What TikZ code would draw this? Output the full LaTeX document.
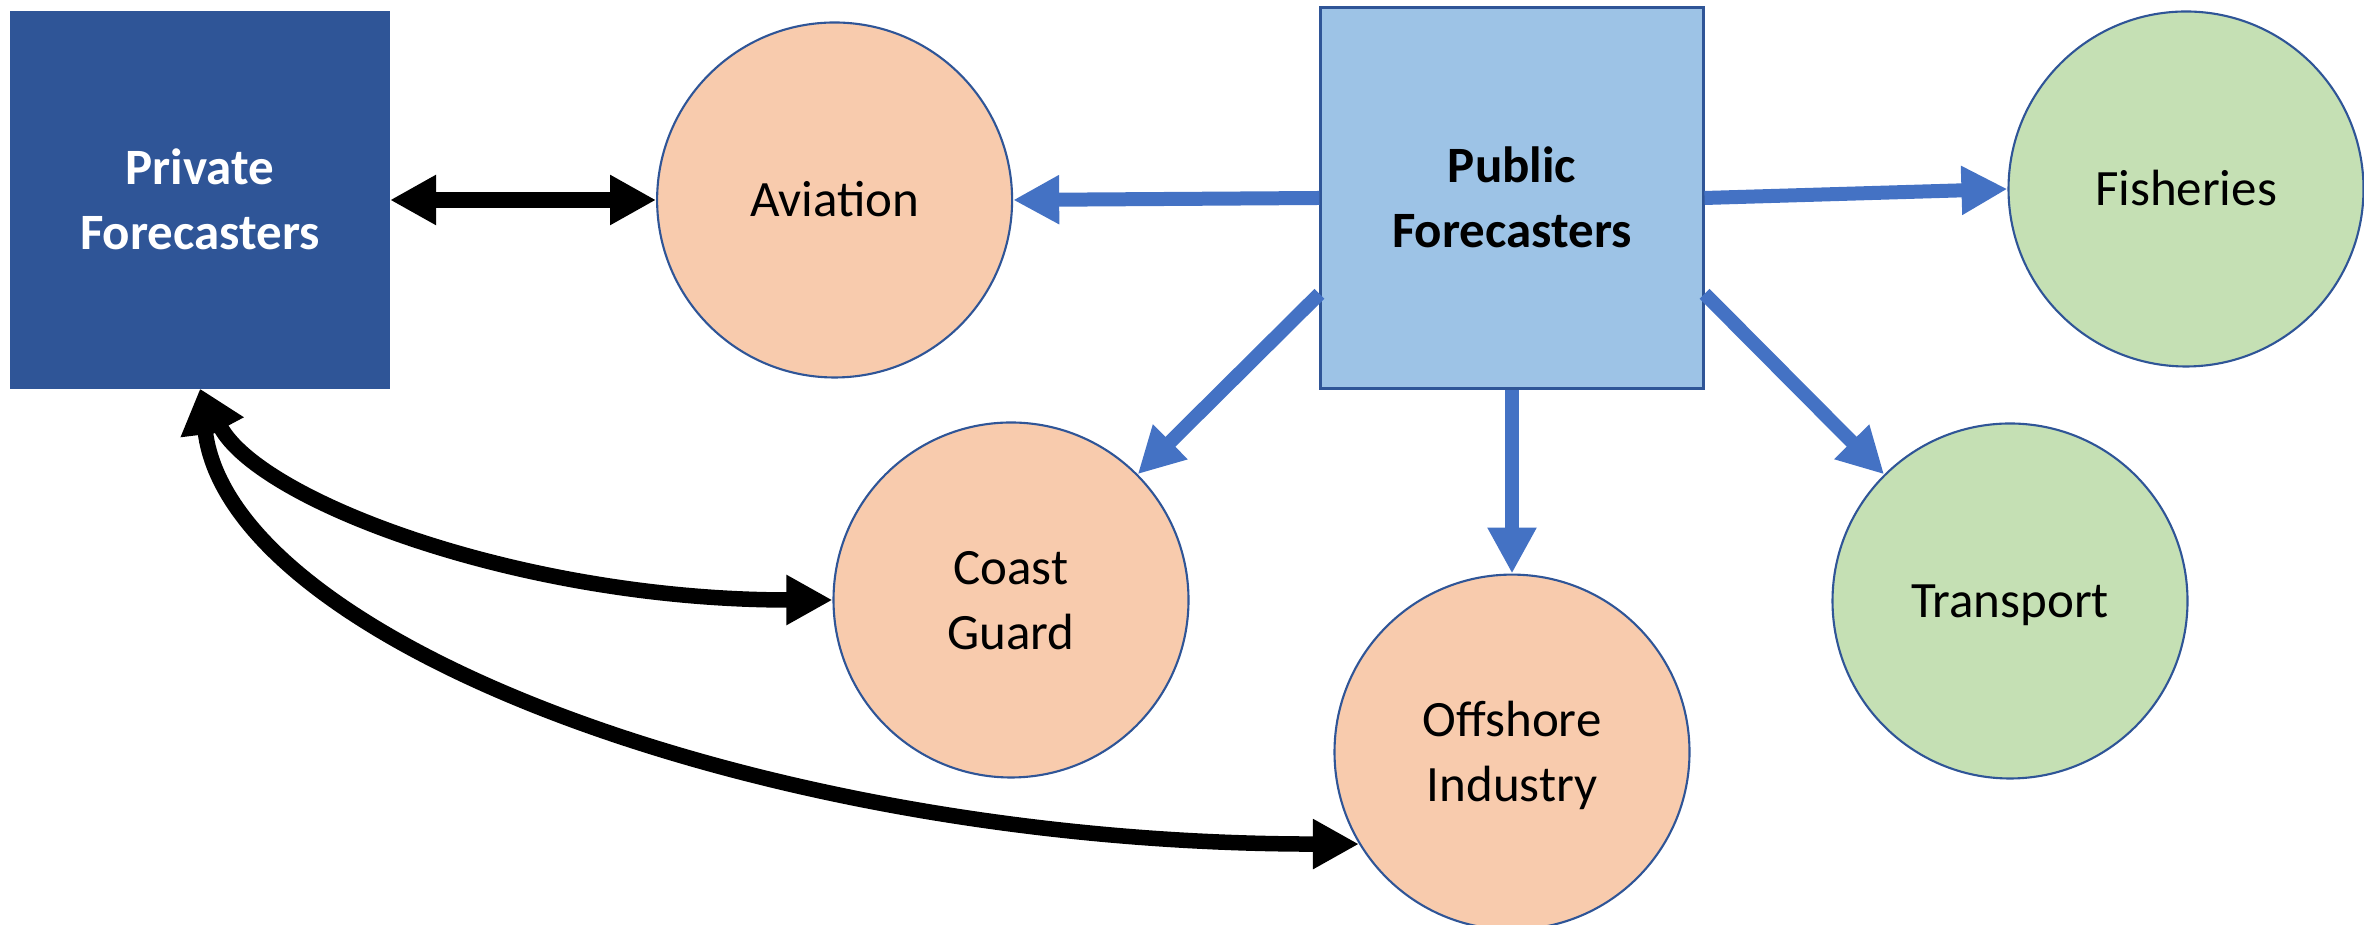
\documentclass[tikz,border=0pt]{standalone}
\usepackage{fontspec}
\setmainfont{Carlito}
\usetikzlibrary{positioning,arrows.meta,calc}
\definecolor{navy}{HTML}{2F5597}
\definecolor{skyfill}{HTML}{9DC3E6}
\definecolor{peach}{HTML}{F8CBAD}
\definecolor{sage}{HTML}{C5E0B4}
\definecolor{arrowblue}{HTML}{4472C4}
% line strut so that every text line sits the same way in its shape
\newcommand{\lstrut}{\rule[-0.13cm]{0pt}{0.60cm}}
\begin{document}
\begin{tikzpicture}[fcst/.style={draw=navy, line width=0.6pt, rectangle, align=center, font=\fontsize{14.5}{18.5}\selectfont\bfseries},user/.style={draw=navy, line width=0.6pt, circle, minimum size=3.55cm, align=center, font=\fontsize{14.5}{18.5}\selectfont},link/.style={<->, line width=1.55mm, >={Triangle[length=4.6mm, width=4.7mm]}},feed/.style={->, draw=arrowblue, line width=1.4mm, >={Triangle[length=4.6mm, width=4.6mm]}}]
    \useasboundingbox (0,0) rectangle (23.64,-9.25);
    % forecasters
    \node[fcst, fill=navy, text=white, minimum width=3.78cm, minimum height=3.75cm] (private) at (2.00,-2.00) {\lstrut Private\\\lstrut Forecasters};
    \node[fcst, fill=skyfill, minimum width=3.83cm, minimum height=3.81cm] (public) at (15.12,-1.98) {\lstrut Public\\\lstrut Forecasters};
    % users
    \node[user, fill=peach, right=2.66cm of private] (aviation) {\lstrut Aviation};
    \node[user, fill=peach] (coast) at (10.11,-6.00) {\lstrut Coast\\\lstrut Guard};
    \node[user, fill=peach, below=1.84cm of public] (offshore) {\lstrut Offshore\\\lstrut Industry};
    \node[user, fill=sage] (fisheries) at (21.86,-1.89) {\lstrut Fisheries};
    \node[user, fill=sage] (transport) at (20.10,-6.01) {\lstrut Transport};
    % public arrows
    \draw[feed] (public.west) -- (aviation.east);
    \draw[feed] (public.east) -- (fisheries.west);
    \draw[feed] ($(public.west)!0.5!(public.south west)$) -- (coast);
    \draw[feed] (public.south) -- (offshore.north);
    \draw[feed] ($(public.east)!0.5!(public.south east)$) -- (transport);
    % private arrows
    \draw[link] (private.east) -- (aviation.west);
    \draw[link] (private.south) .. controls +(-62:1.27) and +(180:3.12) .. (coast.west);
    \draw[link] (private.south) .. controls +(-83:2.54) and +(180:5.97) .. (offshore.211);
\end{tikzpicture}
\end{document}
